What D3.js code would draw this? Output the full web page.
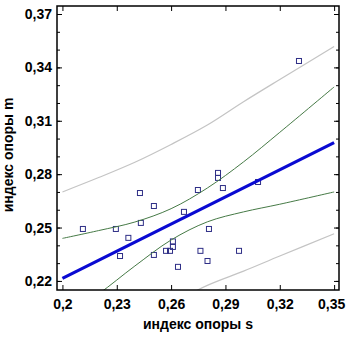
<!DOCTYPE html>
<html>
<head>
<meta charset="utf-8">
<script src="https://cdn.jsdelivr.net/npm/d3@7"></script>
<style>
  body { margin: 0; background: #fff; }
  text { font-family: "Liberation Sans", Arial, sans-serif; font-weight: bold; }
</style>
</head>
<body>
<div id="chart"></div>
<script>
// observed points (индекс опоры s, индекс опоры m)
var pointsS = [0.2113, 0.2295, 0.2318, 0.2364, 0.2428, 0.2433, 0.2505, 0.2505, 0.2572, 0.2594, 0.2610, 0.2610,
    0.2638, 0.2671, 0.2748, 0.2762, 0.2801, 0.2809, 0.2859, 0.2859, 0.2886, 0.2975, 0.3080, 0.3306];
var pointsM = [0.2492, 0.2492, 0.2340, 0.2442, 0.2694, 0.2526, 0.2621, 0.2346, 0.2369, 0.2369, 0.2422, 0.2391,
    0.2279, 0.2588, 0.2711, 0.2369, 0.2312, 0.2492, 0.2807, 0.2779, 0.2722, 0.2369, 0.2756, 0.3436];

// fitted line ends
var fitS = [0.2, 0.35];
var fitM = [0.2214, 0.2977];

// band curves read at these s values
var bandS = [0.2, 0.22, 0.24, 0.26, 0.28, 0.30, 0.32, 0.35];
var confUpper = [0.2439, 0.2483, 0.2531, 0.2606, 0.2722, 0.2869, 0.3035, 0.3290];
var confLower = [0.1990, 0.2127, 0.2284, 0.2430, 0.2532, 0.2588, 0.2631, 0.2700];
var predUpper = [0.2700, 0.2781, 0.2867, 0.2967, 0.3076, 0.3207, 0.3332, 0.3517];
var predLower = [0.1728, 0.1851, 0.1967, 0.2071, 0.2175, 0.2255, 0.2340, 0.2465];

// ticks
var xTicks = [0.2, 0.23, 0.26, 0.29, 0.32, 0.35];
var xTickLabels = ["0,2", "0,23", "0,26", "0,29", "0,32", "0,35"];
var yTicks = [0.22, 0.25, 0.28, 0.31, 0.34, 0.37];
var yTickLabels = ["0,22", "0,25", "0,28", "0,31", "0,34", "0,37"];
var yMinor = [0.22, 0.23, 0.24, 0.25, 0.26, 0.27, 0.28, 0.29, 0.30, 0.31, 0.32, 0.33, 0.34, 0.35, 0.36, 0.37];

var width = 346,
    height = 337;
var plotL = 57, plotR = 339, plotT = 6, plotB = 290;

var svg = d3.select("#chart").append("svg")
    .attr("width", width)
    .attr("height", height);

svg.append("rect")
    .attr("width", width)
    .attr("height", height)
    .attr("fill", "#fff");

var xScale = d3.scaleLinear()
    .domain([0.197, 0.3527])
    .range([plotL, plotR]);
var yScale = d3.scaleLinear()
    .domain([0.2149, 0.3745])
    .range([plotB, plotT]);

svg.append("clipPath")
    .attr("id", "plotClip")
    .append("rect")
    .attr("x", plotL)
    .attr("y", plotT)
    .attr("width", plotR - plotL)
    .attr("height", plotB - plotT);

var plot = svg.append("g").attr("clip-path", "url(#plotClip)");

var band = d3.line()
    .x(function (d) { return xScale(d[0]); })
    .y(function (d) { return yScale(d[1]); })
    .curve(d3.curveCatmullRom);

function bandPoints(vals) {
    return bandS.map(function (s, i) { return [s, vals[i]]; });
}

// prediction band
[predUpper, predLower].forEach(function (vals) {
    plot.append("path")
        .attr("d", band(bandPoints(vals)))
        .attr("fill", "none")
        .attr("stroke", "#c4c4c4")
        .attr("stroke-width", 1.2);
});

// points
plot.selectAll("rect.pt")
    .data(pointsS.map(function (s, i) { return [s, pointsM[i]]; }))
    .enter().append("rect")
    .attr("class", "pt")
    .attr("x", function (d) { return xScale(d[0]) - 2.5; })
    .attr("y", function (d) { return yScale(d[1]) - 2.5; })
    .attr("width", 5)
    .attr("height", 5)
    .attr("fill", "none")
    .attr("stroke", "#2e2e86")
    .attr("stroke-width", 1);

// confidence band
[confUpper, confLower].forEach(function (vals) {
    plot.append("path")
        .attr("d", band(bandPoints(vals)))
        .attr("fill", "none")
        .attr("stroke", "#467a46")
        .attr("stroke-width", 1);
});

// fitted line
var fitLine = d3.line()
    .x(function (d) { return xScale(d[0]); })
    .y(function (d) { return yScale(d[1]); });
plot.append("path")
    .attr("d", fitLine(fitS.map(function (s, i) { return [s, fitM[i]]; })))
    .attr("fill", "none")
    .attr("stroke", "#0a0ad2")
    .attr("stroke-width", 3.2);

// axes, ticks pointing inward on all sides
svg.append("g")
    .attr("transform", "translate(0," + plotB + ")")
    .call(d3.axisBottom(xScale).tickValues(xTicks).tickSizeInner(-5).tickSizeOuter(0).tickPadding(9)
        .tickFormat(function (d, i) { return xTickLabels[i]; }))
    .call(function (g) { g.select(".domain").remove(); })
    .selectAll("text")
    .attr("font-size", 14)
    .attr("fill", "#000")
    .attr("dx", function (d, i) { return i == xTicks.length - 1 ? -3 : 0; });

svg.append("g")
    .attr("transform", "translate(0," + plotT + ")")
    .call(d3.axisTop(xScale).tickValues(xTicks).tickSizeInner(-5).tickSizeOuter(0).tickFormat(""))
    .call(function (g) { g.select(".domain").remove(); });

svg.append("g")
    .attr("transform", "translate(" + plotL + ",0)")
    .call(d3.axisLeft(yScale).tickValues(yTicks).tickSizeInner(-5).tickSizeOuter(0).tickPadding(5)
        .tickFormat(function (d, i) { return yTickLabels[i]; }))
    .call(function (g) { g.select(".domain").remove(); })
    .selectAll("text")
    .attr("font-size", 14)
    .attr("fill", "#000");

svg.append("g")
    .attr("transform", "translate(" + plotL + ",0)")
    .call(d3.axisLeft(yScale).tickValues(yMinor).tickSizeInner(-3).tickSizeOuter(0).tickFormat(""))
    .call(function (g) { g.select(".domain").remove(); });

svg.append("g")
    .attr("transform", "translate(" + plotR + ",0)")
    .call(d3.axisRight(yScale).tickValues(yTicks).tickSizeInner(-5).tickSizeOuter(0).tickFormat(""))
    .call(function (g) { g.select(".domain").remove(); });

svg.append("g")
    .attr("transform", "translate(" + plotR + ",0)")
    .call(d3.axisRight(yScale).tickValues(yMinor).tickSizeInner(-3).tickSizeOuter(0).tickFormat(""))
    .call(function (g) { g.select(".domain").remove(); });

svg.selectAll(".tick line").attr("stroke", "#000");

// frame
svg.append("rect")
    .attr("x", plotL)
    .attr("y", plotT)
    .attr("width", plotR - plotL)
    .attr("height", plotB - plotT)
    .attr("fill", "none")
    .attr("stroke", "#000")
    .attr("stroke-width", 1.5);

// axis titles
svg.append("text")
    .attr("x", (plotL + plotR) / 2)
    .attr("y", 329)
    .attr("text-anchor", "middle")
    .attr("font-size", 14)
    .attr("fill", "#000")
    .text("индекс опоры s");

svg.append("text")
    .attr("transform", "translate(13," + 155 + ") rotate(-90)")
    .attr("text-anchor", "middle")
    .attr("font-size", 14)
    .attr("fill", "#000")
    .text("индекс опоры m");
</script>
</body>
</html>
